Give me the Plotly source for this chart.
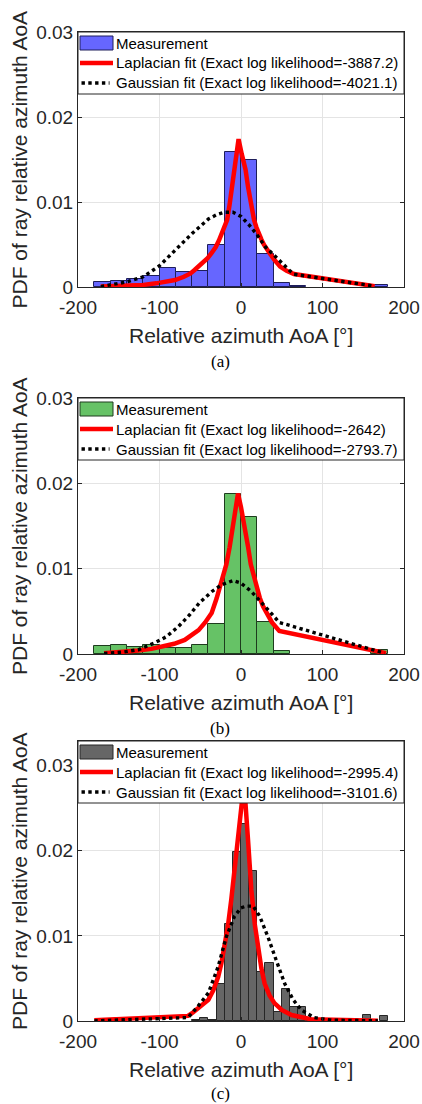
import plotly.graph_objects as go

W, H = 422, 1104

# ---------------- data ----------------
tick_x = [-200, -100, 0, 100, 200]
tick_x_text = ["-200", "-100", "0", "100", "200"]
tick_y = [0, 0.01, 0.02, 0.03]
tick_y_text = ["0", "0.01", "0.02", "0.03"]

# panel (a)
a_bin_centers = [-170, -150, -130, -110, -90, -70, -50, -30, -10, 10, 30, 50, 70, 170]
a_heights = [0.00055, 0.00067, 0.00094, 0.0013, 0.00227, 0.0018, 0.00184, 0.0050,
             0.01584, 0.0149, 0.00384, 0.0005, 0.0001, 0.00024]
a_lap_x = [-172, -150, -133, -120, -104, -90, -81, -70, -62, -57, -51, -46, -41, -36, -31, -27,
           -22, -17, -14, -11, -7, -3,
           1, 5.6, 8.6, 12, 16, 19, 22, 25, 28, 31, 35, 41, 48, 56, 65, 164]
a_lap_y = [0.00005, 0.0001, 0.00016, 0.00025, 0.00043, 0.00062, 0.00082, 0.0012, 0.0016,
           0.0020, 0.0025, 0.0029, 0.0034, 0.0040, 0.0047, 0.0055, 0.0066, 0.0079, 0.0097,
           0.0118, 0.0145, 0.0174,
           0.0156, 0.0138, 0.0118, 0.0098, 0.0079, 0.0070, 0.0062, 0.0056, 0.0050, 0.0045,
           0.0040, 0.0032, 0.0024, 0.0019, 0.00153, 0.0001]
a_gau_x = [-172, -155, -140, -120, -100, -80, -60, -40, -30, -20, -10, 0, 10, 20, 30, 40, 50, 60,
           65, 164]
a_gau_y = [0.00005, 0.0003, 0.0006, 0.0012, 0.0025, 0.0044, 0.0063, 0.0080, 0.0085, 0.0088,
           0.0088, 0.0083, 0.0073, 0.0061, 0.0047, 0.0038, 0.0028, 0.0019, 0.0015, 0.0001]

# panel (b)
b_bin_centers = [-170, -150, -130, -110, -90, -70, -50, -30, -10, 10, 30, 50, 170]
b_heights = [0.0009, 0.0011, 0.0008, 0.0010, 0.00075, 0.00075, 0.0011, 0.0035, 0.0187,
             0.0161, 0.0038, 0.0004, 0.0005]
b_lap_x = [-168, -145, -126, -110, -96, -82, -69, -60, -52, -44, -36, -30, -23, -18, -14, -11,
           -8, -3.7, 0, 3, 6, 8.6, 12, 16.8, 20, 23, 27, 31, 38, 47, 178]
b_lap_y = [0.00008, 0.0002, 0.0004, 0.0006, 0.00086, 0.0012, 0.00165, 0.0022, 0.0028, 0.0037,
           0.0048, 0.0065, 0.0087, 0.0105, 0.0125, 0.0142, 0.0160, 0.0188,
           0.0172, 0.0158, 0.0141, 0.0126, 0.0105, 0.0087, 0.0076, 0.0066, 0.0056, 0.0048,
           0.0037, 0.0027, 0.0001]
b_gau_x = [-168, -147, -126, -106, -92, -77, -63, -51, -36, -24, -10, 0, 13, 23, 33, 47, 176]
b_gau_y = [0.00005, 0.0002, 0.0005, 0.0013, 0.0020, 0.0032, 0.0046, 0.0060, 0.0073, 0.0081,
           0.0086, 0.0083, 0.0073, 0.0063, 0.0052, 0.0037, 0.0001]

# panel (c)
c_bin_centers = [-55, -45, -35, -25, -15, -5, 5, 15, 25, 35, 45, 55, 65, 75, 85, 155, 175]
c_heights = [0.0001, 0.0004, 0.0001, 0.0043, 0.0114, 0.0198, 0.0231, 0.0176, 0.0057, 0.0068,
             0.0010, 0.0038, 0.0016, 0.0016, 0.0002, 0.00067, 0.00055]
c_lap_x = [-180, -65, -59, -53, -46, -40, -34, -28, -24, -20, -16, -12, -8, -4, 3.7, 8.6, 12.7,
           17, 21, 25, 29, 35, 41, 50, 62, 86, 168]
c_lap_y = [0.0001, 0.0006, 0.0010, 0.0015, 0.0020, 0.0025, 0.0036, 0.0052, 0.0068, 0.0087,
           0.0112, 0.0142, 0.0176, 0.0213, 0.0280, 0.0213, 0.0154, 0.0113, 0.0084, 0.0062,
           0.0044, 0.0030, 0.0021, 0.0013, 0.0007, 0.0002, 0.00004]
c_gau_x = [-180, -65, -53, -40, -28, -18, -8, 0, 6.5, 15, 23, 33, 43, 53.6, 64, 74, 90, 111, 168]
c_gau_y = [0.00002, 0.0004, 0.0017, 0.0033, 0.0064, 0.0099, 0.0123, 0.0133, 0.0135, 0.0135,
           0.0123, 0.0099, 0.0072, 0.0044, 0.0025, 0.0013, 0.0004, 0.0001, 0.00002]

legend_labels = {
    "a": ["Measurement", "Laplacian fit (Exact log likelihood=-3887.2)",
          "Gaussian fit (Exact log likelihood=-4021.1)"],
    "b": ["Measurement", "Laplacian fit (Exact log likelihood=-2642)",
          "Gaussian fit (Exact log likelihood=-2793.7)"],
    "c": ["Measurement", "Laplacian fit (Exact log likelihood=-2995.4)",
          "Gaussian fit (Exact log likelihood=-3101.6)"],
}
captions = ["(a)", "(b)", "(c)"]
x_title = "Relative azimuth AoA [°]"
y_title = "PDF of ray relative azimuth AoA"

# ---------------- styling / layout ----------------
TXT = "#262626"
SANS = "Liberation Sans, Arial, Helvetica, sans-serif"
SERIF = "Liberation Serif, Times New Roman, serif"
RED = "#FF0000"

panels = [
    dict(key="a", centers=a_bin_centers, h=a_heights, w=20, lx=a_lap_x, ly=a_lap_y,
         gx=a_gau_x, gy=a_gau_y, fill="#6666FF", edge="#1E1E5A",
         top=32, bottom=287, yr=[0, 0.03], cap_y=361),
    dict(key="b", centers=b_bin_centers, h=b_heights, w=20, lx=b_lap_x, ly=b_lap_y,
         gx=b_gau_x, gy=b_gau_y, fill="#66C266", edge="#1E3C1E",
         top=398, bottom=654, yr=[0, 0.03], cap_y=728),
    dict(key="c", centers=c_bin_centers, h=c_heights, w=10, lx=c_lap_x, ly=c_lap_y,
         gx=c_gau_x, gy=c_gau_y, fill="#666666", edge="#262626",
         top=741, bottom=1021, yr=[0, 0.0329], cap_y=1093),
]

AX_L, AX_R = 78, 404


def px(x):
    return x / W


def py(y):
    return 1 - y / H


fig = go.Figure()
shapes = []
annotations = []
layout_axes = {}

for i, p in enumerate(panels):
    n = "" if i == 0 else str(i + 1)
    xa, ya = "x" + n, "y" + n
    fig.add_trace(go.Bar(x=p["centers"], y=p["h"], width=p["w"], xaxis=xa, yaxis=ya,
                         marker=dict(color=p["fill"], line=dict(color=p["edge"], width=1)),
                         name="Measurement", showlegend=False))
    fig.add_trace(go.Scatter(x=p["lx"], y=p["ly"], mode="lines", xaxis=xa, yaxis=ya,
                             line=dict(color=RED, width=4.5), name="Laplacian fit",
                             showlegend=False))
    fig.add_trace(go.Scatter(x=p["gx"], y=p["gy"], mode="lines", xaxis=xa, yaxis=ya,
                             line=dict(color="black", width=3.4, dash="3.4px,3.4px"),
                             name="Gaussian fit", showlegend=False))

    common = dict(showline=True, linecolor=TXT, linewidth=1, mirror="ticks",
                  ticks="inside", ticklen=4, tickcolor=TXT, tickwidth=1,
                  showgrid=True, gridcolor="#E4E4E4", gridwidth=1, zeroline=False,
                  automargin=False,
                  tickfont=dict(family=SANS, size=19, color=TXT))
    layout_axes["xaxis" + n] = dict(common, domain=[px(AX_L), px(AX_R)], range=[-200, 200],
                                    tickvals=tick_x, ticktext=tick_x_text, anchor=ya,
                                    ticklabelstandoff=3)
    layout_axes["yaxis" + n] = dict(common, domain=[py(p["bottom"]), py(p["top"])],
                                    range=p["yr"], tickvals=tick_y, ticktext=tick_y_text,
                                    anchor=xa)

    # axis titles
    annotations.append(dict(text=x_title, xref="paper", yref="paper",
                            x=px((AX_L + AX_R) / 2), y=py(p["bottom"] + 48),
                            xanchor="center", yanchor="middle", showarrow=False,
                            font=dict(family=SANS, size=21, color=TXT)))
    annotations.append(dict(text=y_title, xref="paper", yref="paper",
                            x=px(19), y=py((p["top"] + p["bottom"]) / 2), textangle=-90,
                            xanchor="center", yanchor="middle", showarrow=False,
                            font=dict(family=SANS, size=21, color=TXT)))
    annotations.append(dict(text=captions[i], xref="paper", yref="paper",
                            x=px(220), y=py(p["cap_y"]), xanchor="center", yanchor="middle",
                            showarrow=False, font=dict(family=SERIF, size=17, color="black")))

    # legend box (drawn as shapes + text)
    t = p["top"]
    shapes.append(dict(type="rect", xref="paper", yref="paper", layer="above",
                       x0=px(AX_L), x1=px(AX_R), y0=py(t), y1=py(t + 62),
                       fillcolor="white", line=dict(color=TXT, width=1)))
    shapes.append(dict(type="rect", xref="paper", yref="paper", layer="above",
                       x0=px(80), x1=px(113), y0=py(t + 4), y1=py(t + 18),
                       fillcolor=p["fill"], line=dict(color=p["edge"], width=1)))
    shapes.append(dict(type="line", xref="paper", yref="paper", layer="above",
                       x0=px(80), x1=px(113), y0=py(t + 31), y1=py(t + 31),
                       line=dict(color=RED, width=4.5)))
    shapes.append(dict(type="line", xref="paper", yref="paper", layer="above",
                       x0=px(81.5), x1=px(109.5), y0=py(t + 51), y1=py(t + 51),
                       line=dict(color="black", width=3.4, dash="3.4px,3.4px")))
    for k, lab in enumerate(legend_labels[p["key"]]):
        annotations.append(dict(text=lab, xref="paper", yref="paper",
                                x=px(114), y=py(t + 11 + 20 * k),
                                xanchor="left", yanchor="middle", showarrow=False,
                                font=dict(family=SANS, size=15, color="black")))

fig.update_layout(
    width=W, height=H, margin=dict(l=0, r=0, t=0, b=0),
    paper_bgcolor="white", plot_bgcolor="white", bargap=0,
    shapes=shapes, annotations=annotations, showlegend=False,
    **layout_axes,
)

fig.write_html("out.html")
